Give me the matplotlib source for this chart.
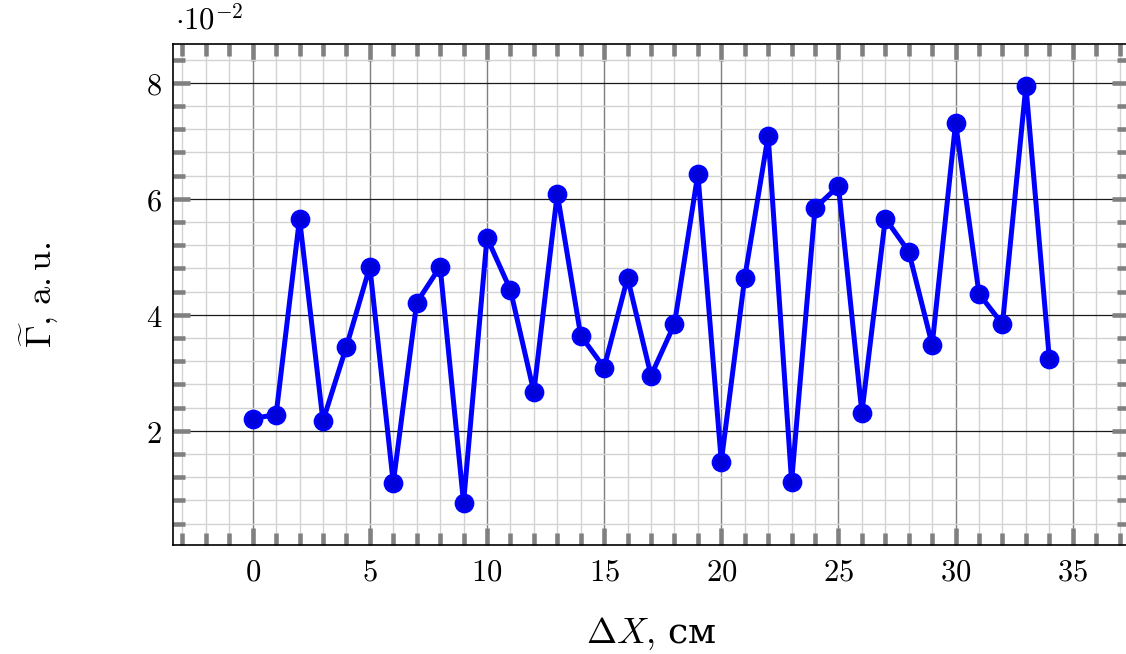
import numpy as np
import matplotlib
matplotlib.use("Agg")
import matplotlib.pyplot as plt
from matplotlib.ticker import MultipleLocator

plt.rcParams['mathtext.fontset'] = 'cm'
plt.rcParams['font.family'] = ['DejaVu Serif']

# data (values in units of 1e-2)
dx = np.arange(0, 35)
gamma = [2.21, 2.28, 5.66, 2.17, 3.45, 4.83, 1.10, 4.21, 4.83, 0.76,
         5.33, 4.43, 2.67, 6.09, 3.64, 3.09, 4.64, 2.95, 3.84, 6.43,
         1.47, 4.64, 7.09, 1.12, 5.84, 6.22, 2.31, 5.66, 5.09, 3.48,
         7.31, 4.36, 3.84, 7.95, 3.24]
xticks = [0, 5, 10, 15, 20, 25, 30, 35]
yticks = [2, 4, 6, 8]

W, H = 1126, 654
fig = plt.figure(figsize=(W / 100, H / 100), dpi=100)
ax = fig.add_axes([173 / W, 1 - 545 / H, (1129 - 173) / W, (545 - 44) / H])

ax.set_xlim(-3.4, 37.4)
ax.set_ylim(0.03, 8.67)

ax.xaxis.set_minor_locator(MultipleLocator(1))
ax.yaxis.set_minor_locator(MultipleLocator(0.4))
ax.set_xticks(xticks)
ax.set_yticks(yticks)
ax.set_xticklabels([f'${t}$' for t in xticks])
ax.set_yticklabels([f'${t}$' for t in yticks])

ax.grid(which='minor', color='#d3d3d3', lw=1.0)
ax.grid(which='major', axis='x', color='#7f7f7f', lw=1.0)
ax.grid(which='major', axis='y', color='#1a1a1a', lw=0.9)
ax.set_axisbelow(True)

ax.tick_params(which='both', direction='in', top=True, right=True, color='#808080',
               labelsize=22, pad=8)
ax.tick_params(which='major', length=12, width=3.3)
ax.tick_params(which='minor', length=8.5, width=3.3)
for s in ax.spines.values():
    s.set_linewidth(1.2)

ax.plot(dx, gamma, '-o', color='#0000ff', lw=3.6, ms=12,
        solid_joinstyle='miter', markerfacecolor='#0000d8',
        markeredgecolor='#0000ff', markeredgewidth=2.2, zorder=5)

fig.text(175 / W, 1 - 21 / H, r'$\cdot10^{-2}$', fontsize=22, va='center', ha='left')
fig.text(40 / W, 1 - 295 / H, r'$\widetilde{\Gamma}{,}\ \mathrm{a{.}u{.}}$', fontsize=26,
         rotation=90, va='center', ha='center')
fig.text(651 / W, 1 - 633 / H, r'$\Delta X{,}$ см', fontsize=26, va='center', ha='center')

fig.savefig('out.png', dpi=100)
